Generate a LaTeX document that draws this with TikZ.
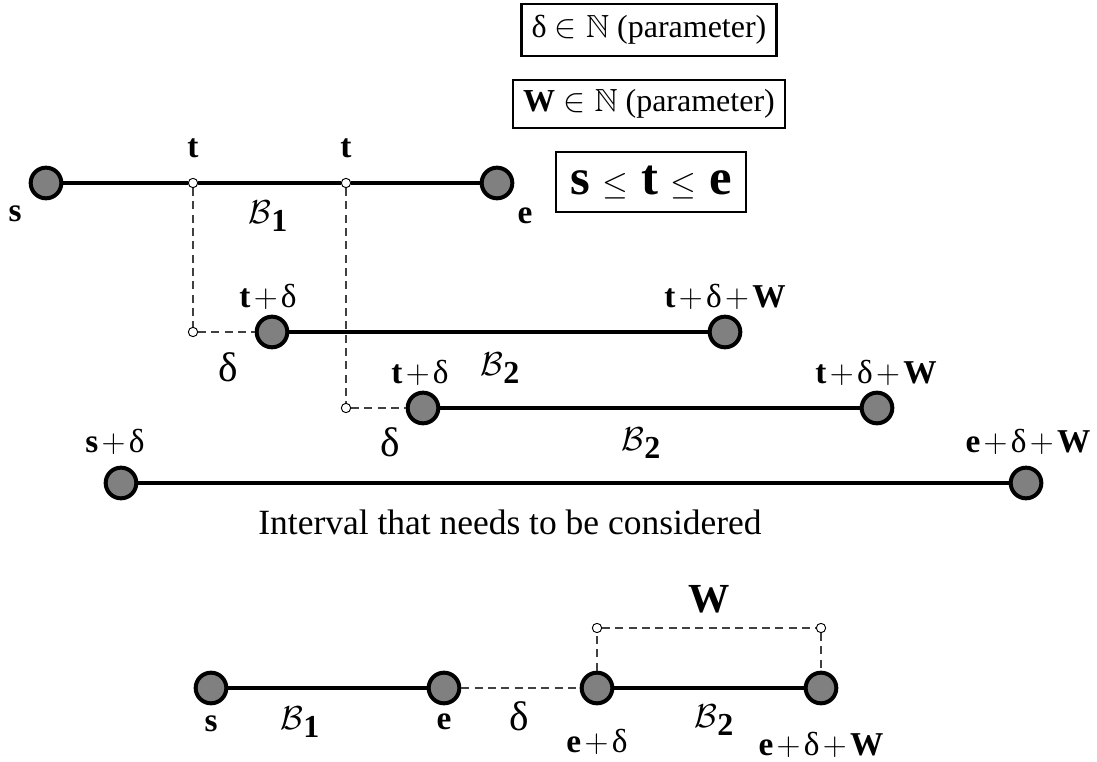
\documentclass[tikz,border=0pt]{standalone}
\usepackage{amssymb}
\usepackage{fontspec}
\setmainfont{Liberation Serif}
\begin{document}
\begin{tikzpicture}[x=0.75pt,y=-0.75pt,
  bigdot/.style={circle,draw=black,fill=black!50,line width=3pt,minimum size=23pt,inner sep=0pt},
  smalldot/.style={circle,draw=black,fill=white,line width=0.7pt,minimum size=7pt,inner sep=0pt},
  seg/.style={line width=2.3pt,black},
  dsh/.style={line width=0.8pt,black!75,dash pattern=on 6pt off 4pt},
  lbl/.style={inner sep=0pt,font=\fontsize{25}{30}\selectfont},
  big/.style={inner sep=0pt,font=\fontsize{31}{34}\selectfont},
  blab/.style={inner sep=0pt,font=\fontsize{24}{28}\selectfont},
  pbox/.style={draw,line width=2.2pt,inner sep=0pt,font=\fontsize{24}{28}\selectfont}]
\useasboundingbox (0,0) rectangle (1097,762);
\newcommand{\pl}{\kern.1em$+$\kern.1em}
\newcommand{\Bsub}[1]{$\mathcal{B}$\raisebox{-6pt}{\textbf{#1}}}

% parameter boxes
\node[pbox,minimum width=191pt,minimum height=39pt] (p1) at (649,30) {δ $\in\mathbb{N}$ (parameter)};
\node[pbox,minimum width=204pt,minimum height=36pt] (p2) at (649,104) {\textbf{W} $\in\mathbb{N}$ (parameter)};
\node[pbox,minimum width=142.5pt,minimum height=45pt,font=\fontsize{38}{40}\selectfont] (p3) at (651,182) {\textbf{s} $\leq$ \textbf{t} $\leq$ \textbf{e}};

% row 1
\node[bigdot] (s1) at (46,183) {};
\node[bigdot] (e1) at (497,183) {};
\node[smalldot] (t1) at (193,183) {};
\node[smalldot] (t2) at (346,183) {};
\draw[seg] (s1) -- (t1) -- (t2) -- (e1);
\node[lbl] (ls1) at (15,214) {\textbf{s}};
\node[lbl] (le1) at (525,216) {\textbf{e}};
\node[lbl] (lt1) at (193,148) {\textbf{t}};
\node[lbl] (lt2) at (346,148) {\textbf{t}};
\node[blab] (lb1) at (268,216) {\Bsub{1}};

% row 2
\node[smalldot] (d1) at (193,332) {};
\node[bigdot] (a2) at (272,332) {};
\node[bigdot] (f2) at (725,332) {};
\draw[seg] (a2) -- (f2);
\draw[dsh] (t1) -- (d1);
\draw[dsh] (d1) -- (a2);
\node[lbl] (la2) at (268,297) {\textbf{t}\pl δ};
\node[lbl] (lf2) at (725,297) {\textbf{t}\pl δ\pl\textbf{W}};
\node[big] (ld2) at (228,367) {δ};
\node[blab] (lb2) at (500,368) {\Bsub{2}};

% row 3
\node[smalldot] (d2) at (346,408) {};
\node[bigdot] (a3) at (423,408) {};
\node[bigdot] (f3) at (877,408) {};
\draw[seg] (a3) -- (f3);
\draw[dsh] (t2) -- (d2);
\draw[dsh] (d2) -- (a3);
\node[lbl] (la3) at (420,373) {\textbf{t}\pl δ};
\node[lbl] (lf3) at (876,373) {\textbf{t}\pl δ\pl\textbf{W}};
\node[big] (ld3) at (390,442) {δ};
\node[blab] (lb3) at (641,443) {\Bsub{2}};

% row 4
\node[bigdot] (a4) at (121,483) {};
\node[bigdot] (f4) at (1026,483) {};
\draw[seg] (a4) -- (f4);
\node[lbl] (la4) at (115,442) {\textbf{s}\pl δ};
\node[lbl] (lf4) at (1028,442) {\textbf{e}\pl δ\pl\textbf{W}};
\node[inner sep=0pt,font=\fontsize{26.6}{30}\selectfont] (lint) at (510,522) {Interval that needs to be considered};

% bottom
\node[bigdot] (b1) at (211,688) {};
\node[bigdot] (b2) at (444,688) {};
\node[bigdot] (b3) at (597,688) {};
\node[bigdot] (b4) at (821,688) {};
\node[smalldot] (w1) at (597,628) {};
\node[smalldot] (w2) at (821,628) {};
\draw[seg] (b1) -- (b2);
\draw[dsh] (b2) -- (b3);
\draw[seg] (b3) -- (b4);
\draw[dsh] (b3) -- (w1);
\draw[dsh] (w1) -- (w2);
\draw[dsh] (w2) -- (b4);
\node[big,font=\fontsize{31}{34}\selectfont\bfseries] (lw) at (709,599) {W};
\node[lbl] (lbs) at (211,724) {\textbf{s}};
\node[blab] (lbb1) at (300,722) {\Bsub{1}};
\node[lbl] (lbe) at (444,722) {\textbf{e}};
\node[big] (lbd) at (519,716) {δ};
\node[lbl] (lbed) at (597,742) {\textbf{e}\pl δ};
\node[blab] (lbb2) at (714,720) {\Bsub{2}};
\node[lbl] (lbedw) at (821,745) {\textbf{e}\pl δ\pl\textbf{W}};
\end{tikzpicture}
\end{document}
